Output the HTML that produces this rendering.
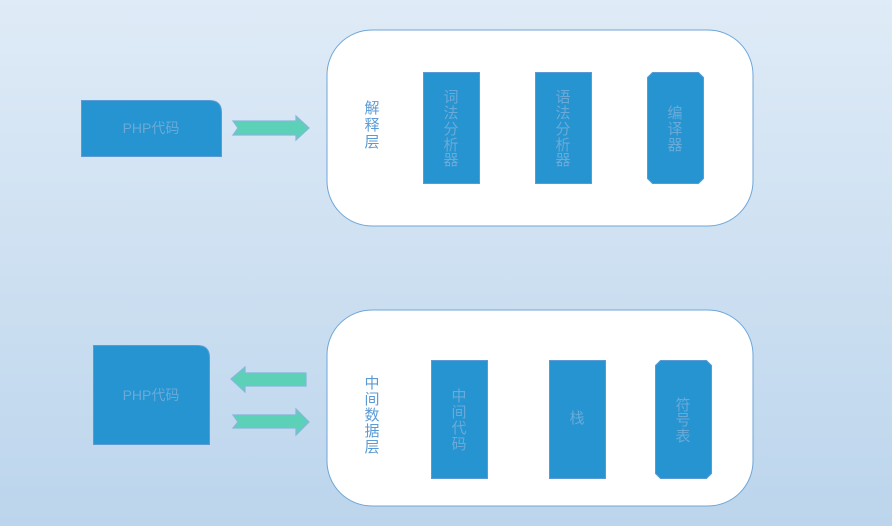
<!DOCTYPE html>
<html><head><meta charset="utf-8"><style>
html,body{margin:0;padding:0;width:892px;height:526px;overflow:hidden}
svg{display:block}
text{font-family:"Liberation Sans","Noto Sans CJK SC",sans-serif;}
</style></head><body>
<svg width="892" height="526" viewBox="0 0 892 526" xmlns="http://www.w3.org/2000/svg">
<defs><linearGradient id="bg" x1="0" y1="0" x2="0" y2="1"><stop offset="0" stop-color="#dfebf7"/><stop offset="1" stop-color="#bcd5ec"/></linearGradient></defs>
<rect width="892" height="526" fill="url(#bg)"/>
<rect x="327" y="30" width="426" height="196" rx="45" fill="#fff" stroke="#6ea6d8"/>
<rect x="327" y="310" width="426" height="196" rx="45" fill="#fff" stroke="#6ea6d8"/>
<path d="M81.5 100.5H209.5Q221.5 100.5 221.5 112.5V156.5H81.5Z" fill="#2594d1" stroke="#5b9bd5"/>
<text x="151" y="133" font-size="14" fill="#6aaad8" text-anchor="middle">PHP代码</text>
<path d="M93.5 345.5H197.5Q209.5 345.5 209.5 357.5V444.5H93.5Z" fill="#2594d1" stroke="#5b9bd5"/>
<text x="151" y="400" font-size="14" fill="#6aaad8" text-anchor="middle">PHP代码</text>
<g fill="#5cd1b8" stroke="#86b6dc" stroke-width="1.2">
<path d="M233 121H296V116L309 128L296 140V135H233L238 128Z"/>
<path d="M231 379L245 367V373H306V386H245V392Z"/>
<path d="M233 415H296V409L309 422L296 435V428H233L238 422Z"/>
</g>
<g fill="#2594d1" stroke="#5b9bd5">
<rect x="423.5" y="72.5" width="56" height="111"/>
<rect x="535.5" y="72.5" width="56" height="111"/>
<path d="M652.5 72.5H698.5L703.5 77.5V178.5L698.5 183.5H652.5L647.5 178.5V77.5Z"/>
<rect x="431.5" y="360.5" width="56" height="118"/>
<rect x="549.5" y="360.5" width="56" height="118"/>
<path d="M660.5 360.5H706.5L711.5 365.5V473.5L706.5 478.5H660.5L655.5 473.5V365.5Z"/>
</g>
<g font-size="15" fill="#6aaad8" text-anchor="middle">
<text x="451" y="102">词</text><text x="451" y="118">法</text><text x="451" y="134">分</text><text x="451" y="150">析</text><text x="451" y="165">器</text>
<text x="563" y="102">语</text><text x="563" y="118">法</text><text x="563" y="134">分</text><text x="563" y="150">析</text><text x="563" y="165">器</text>
<text x="675" y="118">编</text><text x="675" y="134">译</text><text x="675" y="150">器</text>
<text x="459" y="401">中</text><text x="459" y="417">间</text><text x="459" y="433">代</text><text x="459" y="449">码</text>
<text x="577" y="423">栈</text>
<text x="683" y="410">符</text><text x="683" y="425">号</text><text x="683" y="441">表</text>
</g>
<g font-size="15" fill="#5b9bd5" text-anchor="middle">
<text x="372" y="113">解</text><text x="372" y="130">释</text><text x="372" y="147">层</text>
<text x="372" y="388">中</text><text x="372" y="404">间</text><text x="372" y="420">数</text><text x="372" y="436">据</text><text x="372" y="452">层</text>
</g>
</svg>
</body></html>
